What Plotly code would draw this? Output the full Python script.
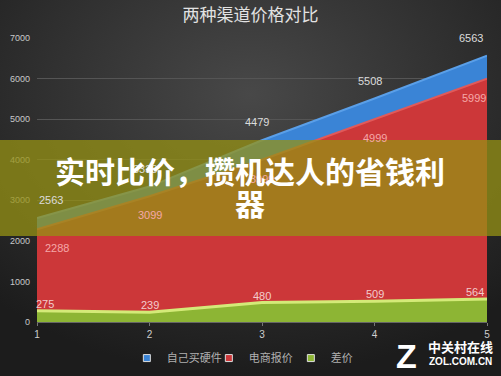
import base64
import plotly.graph_objects as go

x_vals = [1, 2, 3, 4, 5]
self_build = [2563, 3338, 4479, 5508, 6563]
online = [2288, 3099, 3999, 4999, 5999]
diff = [275, 239, 480, 509, 564]
series_names = ["自己买硬件", "电商报价", "差价"]
series_colors = ["#3a84d6", "#cc3739", "#8db534"]
title_text = "两种渠道价格对比"
banner_line1 = "实时比价，攒机达人的省钱利"
banner_line2 = "器"
y_ticks = [0, 1000, 2000, 3000, 4000, 5000, 6000, 7000]

W, H = 501, 376
ML, MR, MT, MB = 37, 14, 38, 54
PW, PH = W - ML - MR, H - MT - MB

svg = (
    '<svg xmlns="http://www.w3.org/2000/svg" width="501" height="376" viewBox="0 0 501 376" '
    'preserveAspectRatio="none"><defs><radialGradient id="g" cx="50%" cy="25%" r="75%">'
    '<stop offset="0" stop-color="#484848"/><stop offset="0.55" stop-color="#303030"/>'
    '<stop offset="1" stop-color="#1c1c1c"/></radialGradient></defs>'
    '<rect width="501" height="376" fill="url(#g)"/></svg>'
)
bg_src = "data:image/svg+xml;base64," + base64.b64encode(svg.encode()).decode()

fig = go.Figure()
fig.add_trace(go.Scatter(x=x_vals, y=self_build, name=series_names[0], mode="lines",
                         fill="tozeroy", fillcolor=series_colors[0], showlegend=False,
                         line=dict(color="#5a9fe8", width=2)))
fig.add_trace(go.Scatter(x=x_vals, y=online, name=series_names[1], mode="lines",
                         fill="tozeroy", fillcolor=series_colors[1], showlegend=False,
                         line=dict(color="#e05a5a", width=2)))
fig.add_trace(go.Scatter(x=x_vals, y=diff, name=series_names[2], mode="lines",
                         fill="tozeroy", fillcolor=series_colors[2], showlegend=False,
                         line=dict(color="#d4ea78", width=3)))
for name, col in zip(series_names, series_colors):
    fig.add_trace(go.Scatter(x=[None], y=[None], name=name, mode="markers",
                             marker=dict(symbol="square", size=7, color=col,
                                         line=dict(color="#dddddd", width=1))))

annotations = []
n = len(x_vals)
def xs(i):
    if i == 0:
        return 14
    if i == n - 1:
        return -16
    return -5

for i, (xv, v) in enumerate(zip(x_vals, self_build)):
    annotations.append(dict(x=xv, y=v, text=str(v), showarrow=False, yshift=18, xshift=xs(i),
                            font=dict(size=11, color="#dcdcdc", family="Liberation Sans")))
for i, (xv, v) in enumerate(zip(x_vals, online)):
    annotations.append(dict(x=xv, y=v, text=str(v), showarrow=False, yshift=-19,
                            xshift=(20 if i == 0 else (-13 if i == n - 1 else 0)),
                            font=dict(size=11, color="#f5a8a8", family="Liberation Sans")))
for i, (xv, v) in enumerate(zip(x_vals, diff)):
    annotations.append(dict(x=xv, y=v, text=str(v), showarrow=False, yshift=7,
                            xshift=(8 if i == 0 else (-12 if i == n - 1 else 0)),
                            font=dict(size=11, color="#f3cccc", family="Liberation Sans")))

# banner text
annotations.append(dict(xref="paper", yref="paper", x=0.473, y=0.535, text="<b>" + banner_line1 + "</b>",
                        showarrow=False, xanchor="center", yanchor="middle",
                        font=dict(size=30, color="white", family="Noto Sans CJK SC")))
annotations.append(dict(xref="paper", yref="paper", x=0.474, y=0.4225, text="<b>" + banner_line2 + "</b>",
                        showarrow=False, xanchor="center", yanchor="middle",
                        font=dict(size=30, color="white", family="Noto Sans CJK SC")))
# watermark
annotations.append(dict(xref="paper", yref="paper", x=0.822, y=-0.118, text="<b>Z</b>",
                        showarrow=False, xanchor="center", yanchor="middle",
                        font=dict(size=34, color="white", family="Liberation Sans")))
annotations.append(dict(xref="paper", yref="paper", x=0.942, y=-0.085, text="<b>中关村在线</b>",
                        showarrow=False, xanchor="center", yanchor="middle",
                        font=dict(size=13, color="white", family="Noto Sans CJK SC")))
annotations.append(dict(xref="paper", yref="paper", x=0.942, y=-0.138, text="<b>ZOL.COM.CN</b>",
                        showarrow=False, xanchor="center", yanchor="middle",
                        font=dict(size=10, color="white", family="Liberation Sans")))

shapes = [
    dict(type="rect", xref="paper", yref="paper", x0=-0.09, x1=1.04, y0=0.303, y1=0.641,
         fillcolor="rgba(150,145,20,0.75)", line=dict(width=0), layer="above"),
]

fig.update_layout(
    width=W, height=H,
    margin=dict(l=ML, r=MR, t=MT, b=MB, autoexpand=False),
    paper_bgcolor="#2a2a2a",
    plot_bgcolor="rgba(0,0,0,0)",
    images=[dict(source=bg_src, xref="paper", yref="paper", x=-ML / PW, y=1 + MT / PH,
                 sizex=W / PW, sizey=H / PH, xanchor="left", yanchor="top",
                 sizing="stretch", layer="below")],
    title=dict(text=title_text, x=0.5, y=1 - 15 / H, xanchor="center", yanchor="middle",
               font=dict(size=17, color="#e2e2e2", family="Noto Sans CJK SC")),
    xaxis=dict(range=[1, 5], tickvals=x_vals, showgrid=False, zeroline=False,
               showline=True, linecolor="#666", ticks="outside", ticklen=3, tickcolor="#777",
               tickfont=dict(size=10, color="#cfcfcf", family="Liberation Sans")),
    yaxis=dict(range=[0, 7000], tickvals=y_ticks, showgrid=True, gridcolor="#555555",
               zeroline=False, tickfont=dict(size=9, color="#c8c8c8", family="Liberation Sans"),
               ticklabelstandoff=6),
    showlegend=True,
    legend=dict(orientation="h", x=0.473, xanchor="center",
                y=-0.127, yanchor="middle", traceorder="normal",
                font=dict(size=11, color="#b0b0b0", family="Noto Sans CJK SC"),
                bgcolor="rgba(0,0,0,0)", itemwidth=30, entrywidth=37),
    annotations=annotations,
    shapes=shapes,
)

fig.write_html("out.html", config={"displayModeBar": False},
               post_script="document.body.style.margin='0';")
